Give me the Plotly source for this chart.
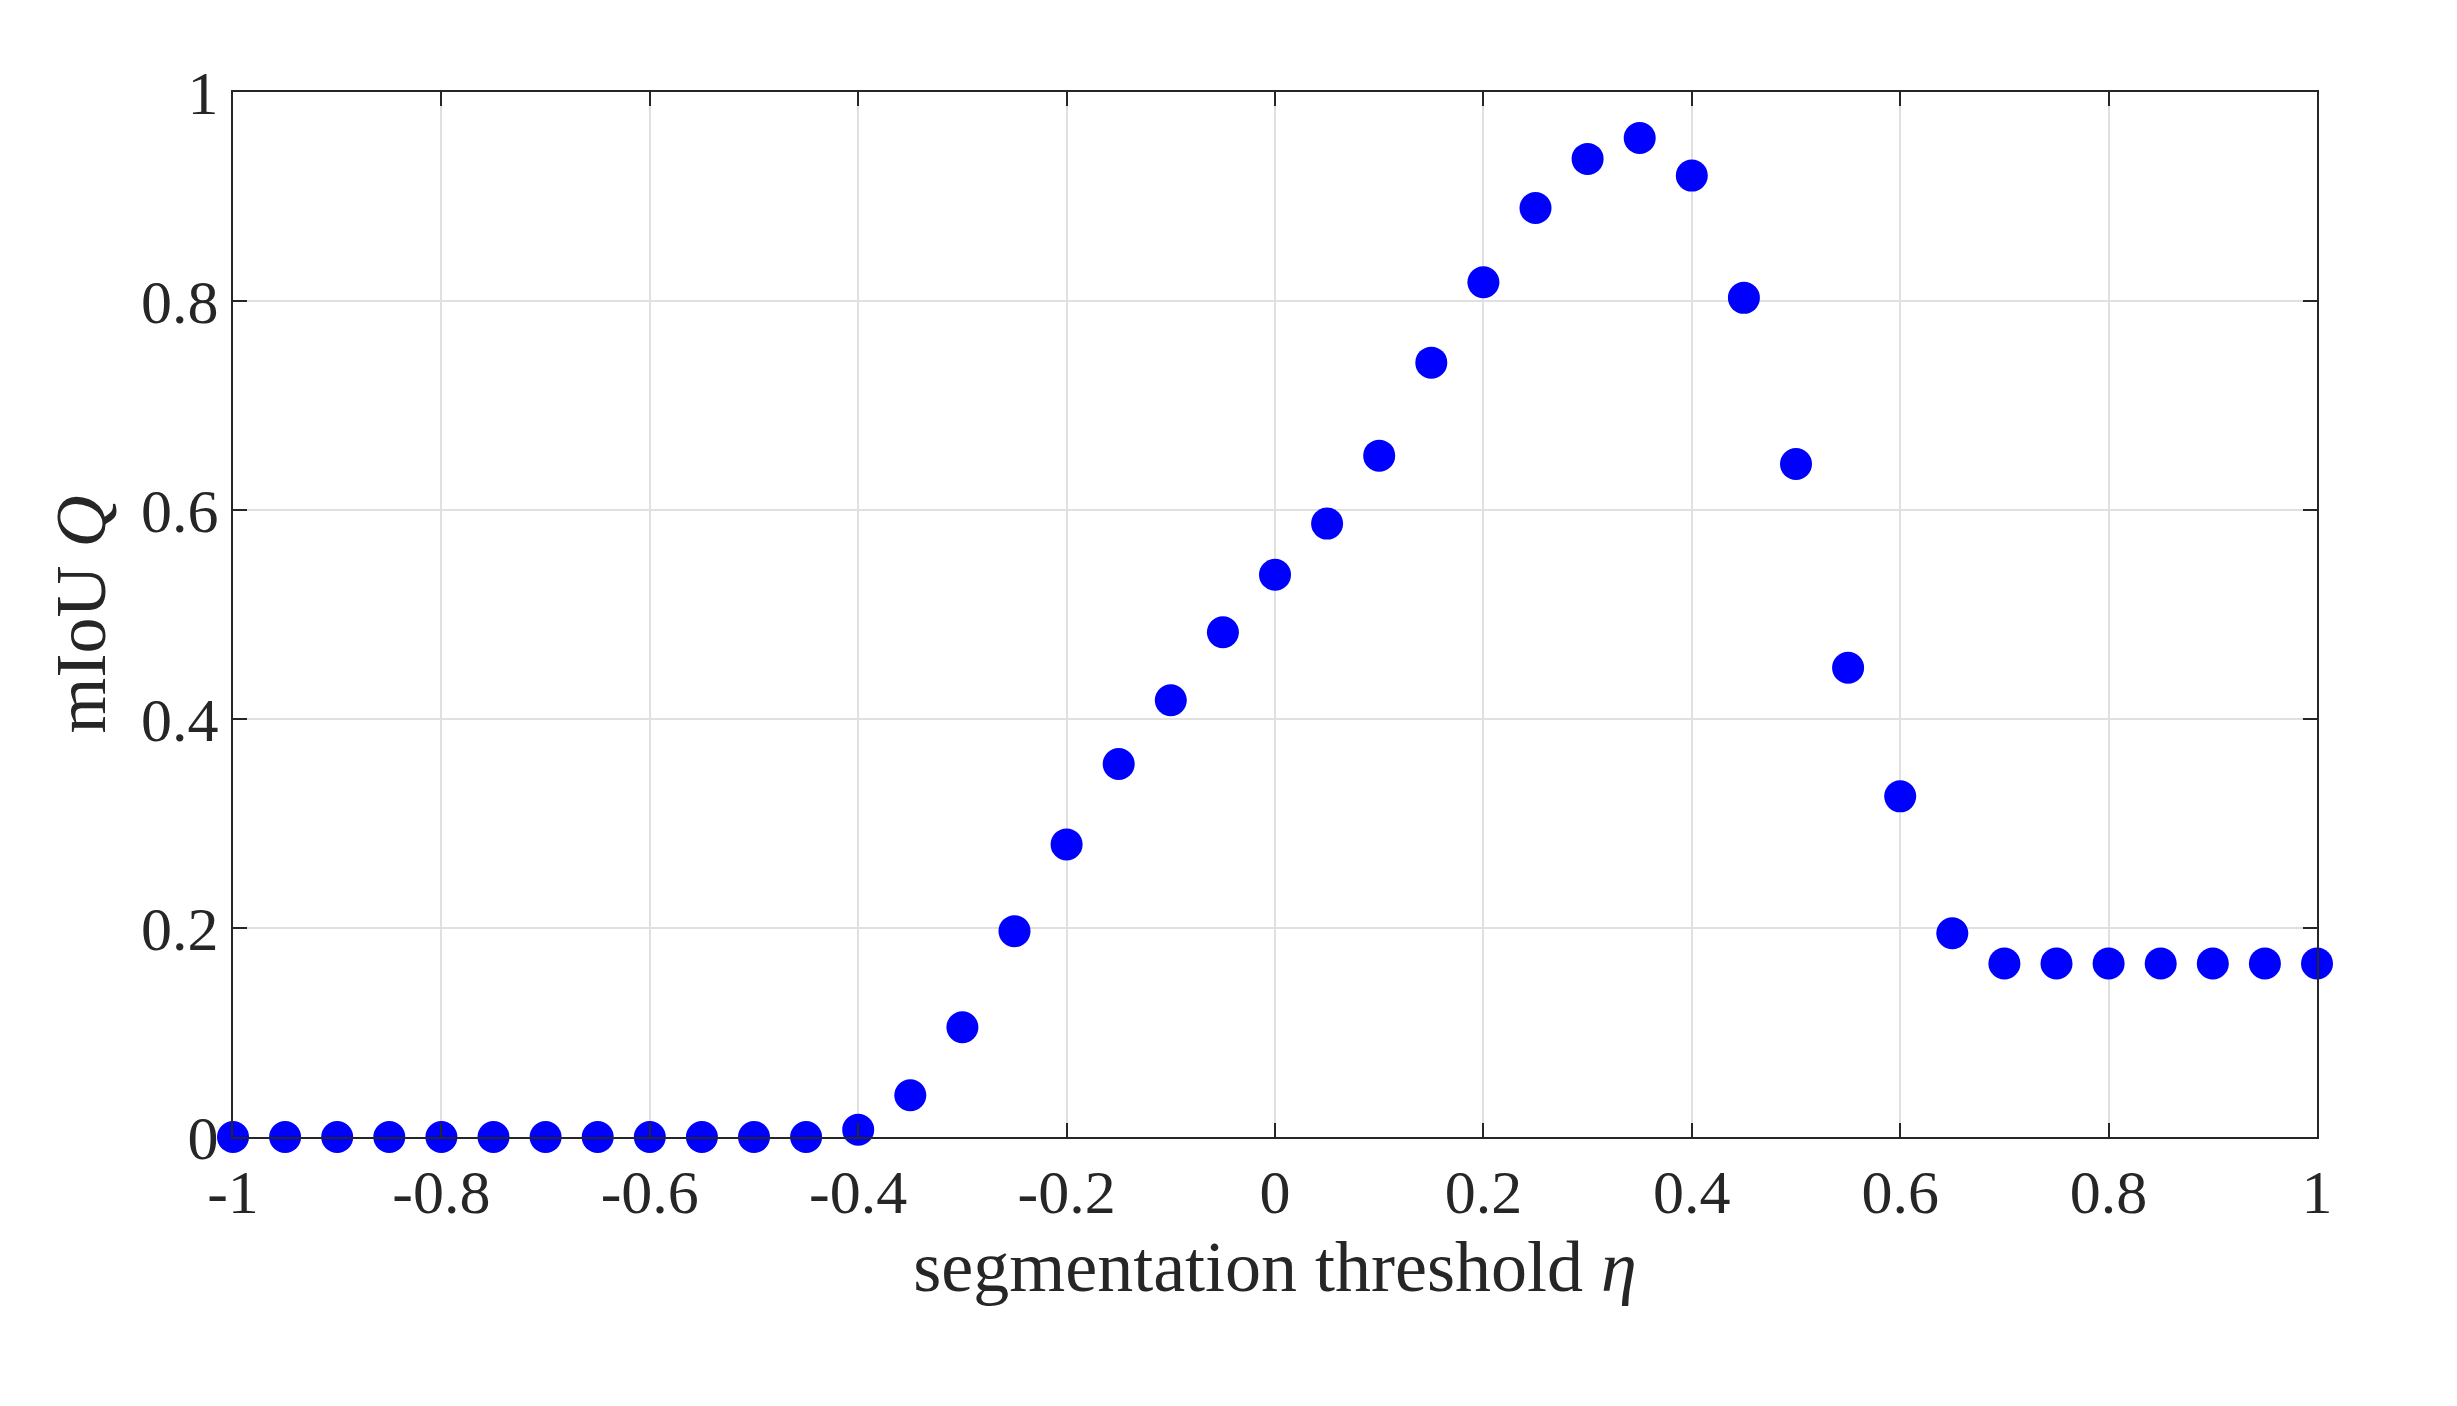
import plotly.graph_objects as go

eta = [round(-1 + 0.05 * i, 2) for i in range(41)]
miou = [0, 0, 0, 0, 0, 0, 0, 0, 0, 0, 0, 0,
        0.007, 0.04, 0.105, 0.197, 0.28, 0.357, 0.418, 0.483, 0.538, 0.587,
        0.652, 0.741, 0.818, 0.889, 0.936, 0.956, 0.92, 0.803, 0.644, 0.449,
        0.326, 0.195,
        0.166, 0.166, 0.166, 0.166, 0.166, 0.166, 0.166]
xticks = [-1, -0.8, -0.6, -0.4, -0.2, 0, 0.2, 0.4, 0.6, 0.8, 1]
yticks = [0, 0.2, 0.4, 0.6, 0.8, 1]

fig = go.Figure(go.Scatter(x=eta, y=miou, mode='markers',
                           marker=dict(color='#0000ff', size=32),
                           cliponaxis=False))

ax = dict(showline=True, linecolor='#262626', linewidth=2, mirror='ticks',
          ticks='inside', ticklen=14, tickcolor='#262626', tickwidth=2,
          showgrid=True, gridcolor='#e0e0e0', gridwidth=2, zeroline=False,
          tickfont=dict(size=62))

fig.update_layout(
    width=2457, height=1406,
    plot_bgcolor='white', paper_bgcolor='white',
    margin=dict(l=225, r=148, t=84, b=277),
    font=dict(family='Liberation Serif', size=60, color='#262626'),
    showlegend=False,
    xaxis=dict(ax, range=[-1, 1], tickvals=xticks, ticktext=[f'{v:g}' for v in xticks],
               title=dict(text='segmentation threshold <i>η</i>', standoff=15)),
    yaxis=dict(ax, range=[0, 1], tickvals=yticks, ticktext=[f'{v:g}' for v in yticks],
               title=dict(text='mIoU <i>Q</i>', standoff=12)),
)

fig.write_html("out.html")
